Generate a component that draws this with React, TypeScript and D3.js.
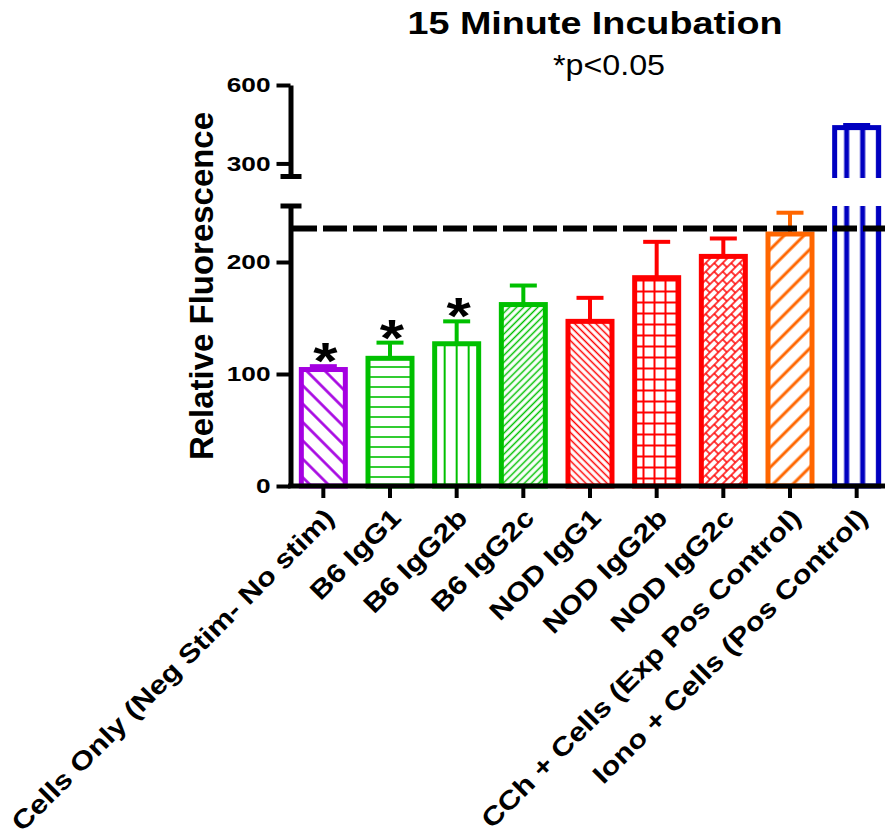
import React, { useEffect, useRef } from 'react';
import * as d3 from 'd3';

const CATEGORIES = [
  'Cells Only (Neg Stim- No stim)',
  'B6 IgG1',
  'B6 IgG2b',
  'B6 IgG2c',
  'NOD IgG1',
  'NOD IgG2b',
  'NOD IgG2c',
  'CCh + Cells (Exp Pos Control)',
  'Iono + Cells (Pos Control)',
];
const MEANS = [104, 114, 127, 162, 147, 186, 205, 225, 437];
const SEMS = [3, 14, 20, 17, 21, 32, 16, 19, 10];
const SIGNIFICANT = [true, true, true, false, false, false, false, false, false];
const COLORS = ['#a500e1', '#00c000', '#00c000', '#00c000', '#ff0000', '#ff0000', '#ff0000', '#ff6600', '#0000c0'];
const FILLS = ['backWide', 'horiz', 'vert', 'fwd', 'back', 'grid', 'brick', 'fwdWide', 'vertThick'];
const LOW_DOMAIN = [0, 250];
const HIGH_DOMAIN = [250, 600];
const LOW_TICKS = [0, 100, 200];
const HIGH_TICKS = [300, 600];
const DASH_LEVEL = 230;
const TITLE = '15 Minute Incubation';
const SUBTITLE = '*p<0.05';
const Y_TITLE = 'Relative Fluorescence';

const W = 885;
const H = 836;
const FONT = '"Liberation Sans", Arial, Helvetica, sans-serif';

export default function App() {
  const svgRef = useRef<SVGSVGElement>(null);

  useEffect(() => {
    const svg = d3.select(svgRef.current);
    svg.selectAll('*').remove();

    const axisX = 290.5;
    const baseY = 486;
    const yLow = d3.scaleLinear().domain(LOW_DOMAIN).range([486, 206]);
    const yHigh = d3.scaleLinear().domain(HIGH_DOMAIN).range([176.5, 85]);
    const x = d3.scaleBand<string>()
      .domain(CATEGORIES)
      .range([290, 890])
      .paddingInner(0.34)
      .paddingOuter(0.17);
    const bw = x.bandwidth();
    const cx = (i: number) => (x(CATEGORIES[i]) as number) + bw / 2;

    // stretch text along its direction (original export is wider than tall)
    const stretch = (sel: any, k: number) => {
      sel.each(function (this: SVGTextElement) {
        const len = this.getComputedTextLength();
        d3.select(this).attr('textLength', len * k).attr('lengthAdjust', 'spacingAndGlyphs');
      });
    };

    const defs = svg.append('defs');

    // patterns
    FILLS.forEach((kind, i) => {
      const c = COLORS[i];
      const p = defs.append('pattern')
        .attr('id', `pat-${i}`)
        .attr('patternUnits', 'userSpaceOnUse');
      const line = (x1: number, y1: number, x2: number, y2: number, sw: number) =>
        p.append('line').attr('x1', x1).attr('y1', y1).attr('x2', x2).attr('y2', y2)
          .attr('stroke', c).attr('stroke-width', sw);
      if (kind === 'backWide' || kind === 'fwdWide' || kind === 'back' || kind === 'fwd') {
        const s = kind.endsWith('Wide') ? (kind === 'backWide' ? 13 : 14) : 5;
        const sw = kind === 'backWide' ? 2.6 : kind === 'fwdWide' ? 3 : 1.5;
        p.attr('width', s).attr('height', s)
          .attr('patternTransform', `rotate(${kind.startsWith('back') ? -45 : 45})`);
        line(s / 2, -1, s / 2, s + 1, sw);
      } else if (kind === 'horiz') {
        p.attr('width', 10).attr('height', 10).attr('y', 2);
        line(-1, 5, 11, 5, 1.6);
      } else if (kind === 'vert') {
        p.attr('width', 12).attr('height', 12).attr('x', cx(i) - 6);
        line(6, -1, 6, 13, 2);
      } else if (kind === 'vertThick') {
        p.attr('width', 16).attr('height', 16).attr('x', cx(i) - 18);
        line(8, -1, 8, 17, 5);
      } else if (kind === 'grid') {
        p.attr('width', 11).attr('height', 11);
        line(5.5, -1, 5.5, 12, 2);
        line(-1, 5.5, 12, 5.5, 2);
      } else if (kind === 'brick') {
        p.attr('width', 12).attr('height', 12).attr('patternTransform', 'rotate(-45)');
        line(-1, 1, 13, 1, 1.5);
        line(-1, 7, 13, 7, 1.5);
        line(1, 1, 1, 7, 1.5);
        line(7, 7, 7, 13, 1.5);
        line(7, -1, 7, 1, 1.5);
      }
    });

    defs.append('clipPath').attr('id', 'clipLow')
      .append('rect').attr('x', 0).attr('y', 206).attr('width', W).attr('height', 300);
    defs.append('clipPath').attr('id', 'clipHigh')
      .append('rect').attr('x', 0).attr('y', 0).attr('width', W).attr('height', 178);

    const idx = d3.range(CATEGORIES.length);

    // bars, lower segment
    const lowG = svg.append('g').attr('clip-path', 'url(#clipLow)');
    lowG.selectAll('rect')
      .data(idx)
      .join('rect')
        .attr('x', i => cx(i) - bw / 2)
        .attr('width', bw)
        .attr('y', i => yLow(Math.min(MEANS[i], 270)))
        .attr('height', i => yLow(0) - yLow(Math.min(MEANS[i], 270)))
        .attr('fill', i => `url(#pat-${i})`)
        .attr('stroke', i => COLORS[i])
        .attr('stroke-width', 5);

    // bars, upper segment
    const highG = svg.append('g').attr('clip-path', 'url(#clipHigh)');
    highG.selectAll('rect')
      .data(idx.filter(i => MEANS[i] > HIGH_DOMAIN[0]))
      .join('rect')
        .attr('x', i => cx(i) - bw / 2)
        .attr('width', bw)
        .attr('y', i => yHigh(MEANS[i]))
        .attr('height', i => yHigh(HIGH_DOMAIN[0]) + 20 - yHigh(MEANS[i]))
        .attr('fill', i => `url(#pat-${i})`)
        .attr('stroke', i => COLORS[i])
        .attr('stroke-width', 5);

    // error bars (upper only)
    const errG = svg.append('g');
    idx.forEach(i => {
      const top = MEANS[i] + SEMS[i];
      const ys = top > HIGH_DOMAIN[0] ? yHigh : yLow;
      errG.append('line')
        .attr('x1', cx(i)).attr('x2', cx(i))
        .attr('y1', ys(MEANS[i])).attr('y2', ys(top))
        .attr('stroke', COLORS[i]).attr('stroke-width', 4);
      errG.append('line')
        .attr('x1', cx(i) - 13.5).attr('x2', cx(i) + 13.5)
        .attr('y1', ys(top)).attr('y2', ys(top))
        .attr('stroke', COLORS[i]).attr('stroke-width', 4);
    });

    // threshold dashed line
    svg.append('line')
      .attr('x1', 293).attr('x2', W)
      .attr('y1', yLow(DASH_LEVEL)).attr('y2', yLow(DASH_LEVEL))
      .attr('stroke', '#000').attr('stroke-width', 6)
      .attr('stroke-dasharray', '24 6');

    // y axes (broken)
    const styleAxis = (g: any) => {
      g.select('.domain').attr('stroke', '#000').attr('stroke-width', 5);
      g.selectAll('.tick line').attr('stroke', '#000').attr('stroke-width', 4);
      g.selectAll('.tick text')
        .attr('fill', '#000')
        .style('font-family', FONT)
        .style('font-weight', 'bold')
        .style('font-size', '21px');
    };
    const yAxisLow = svg.append('g')
      .attr('transform', `translate(${axisX},0)`)
      .call(d3.axisLeft(yLow).tickValues(LOW_TICKS).tickSize(14).tickSizeOuter(0).tickPadding(6));
    styleAxis(yAxisLow);
    stretch(yAxisLow.selectAll('.tick text'), 1.25);
    const yAxisHigh = svg.append('g')
      .attr('transform', `translate(${axisX},0)`)
      .call(d3.axisLeft(yHigh).tickValues(HIGH_TICKS).tickSize(14).tickSizeOuter(0).tickPadding(6));
    styleAxis(yAxisHigh);
    stretch(yAxisHigh.selectAll('.tick text'), 1.25);

    // break caps
    [yLow(LOW_DOMAIN[1]), yHigh(HIGH_DOMAIN[0])].forEach(yy => {
      svg.append('line')
        .attr('x1', axisX - 10).attr('x2', axisX + 11)
        .attr('y1', yy).attr('y2', yy)
        .attr('stroke', '#000').attr('stroke-width', 5);
    });

    // x axis
    svg.append('line')
      .attr('x1', axisX - 2.5).attr('x2', W)
      .attr('y1', baseY).attr('y2', baseY)
      .attr('stroke', '#000').attr('stroke-width', 5);
    const xAxis = svg.append('g')
      .attr('transform', `translate(0,${baseY})`)
      .call(d3.axisBottom(x).tickSize(12).tickSizeOuter(0).tickFormat(() => ''));
    xAxis.select('.domain').remove();
    xAxis.selectAll('.tick line').attr('stroke', '#000').attr('stroke-width', 4);

    // category labels
    const labels = svg.append('g')
      .selectAll('text')
      .data(idx)
      .join('text')
        .attr('transform', i => `translate(${cx(i) + 6},513) rotate(-45)`)
        .attr('text-anchor', 'end')
        .attr('dy', '0.35em')
        .style('font-family', FONT)
        .style('font-weight', 'bold')
        .style('font-size', '26px')
        .text(i => CATEGORIES[i]);
    stretch(labels, 1.18);

    // significance stars
    const stars = svg.append('g')
      .selectAll('text')
      .data(idx.filter(i => SIGNIFICANT[i]))
      .join('text')
        .attr('x', i => cx(i) + 2)
        .attr('y', i => yLow(MEANS[i] + SEMS[i]) - 16 + 29)
        .attr('text-anchor', 'middle')
        .style('font-family', FONT)
        .style('font-weight', 'bold')
        .style('font-size', '52px')
        .text('*');
    stretch(stars, 1.2);

    // y title
    svg.append('text')
      .attr('transform', 'translate(213,286) rotate(-90)')
      .attr('text-anchor', 'middle')
      .attr('textLength', 348).attr('lengthAdjust', 'spacingAndGlyphs')
      .style('font-family', FONT)
      .style('font-weight', 'bold')
      .style('font-size', '33px')
      .text(Y_TITLE);

    // titles
    svg.append('text')
      .attr('x', 595).attr('y', 34)
      .attr('text-anchor', 'middle')
      .attr('textLength', 375).attr('lengthAdjust', 'spacingAndGlyphs')
      .style('font-family', FONT)
      .style('font-weight', 'bold')
      .style('font-size', '31px')
      .text(TITLE);
    svg.append('text')
      .attr('x', 609).attr('y', 75)
      .attr('text-anchor', 'middle')
      .attr('textLength', 112).attr('lengthAdjust', 'spacingAndGlyphs')
      .style('font-family', FONT)
      .style('font-size', '29px')
      .text(SUBTITLE);
  }, []);

  return (
    <svg
      ref={svgRef}
      width={W}
      height={H}
      style={{ position: 'absolute', left: 0, top: 0, background: '#fff' }}
    />
  );
}
